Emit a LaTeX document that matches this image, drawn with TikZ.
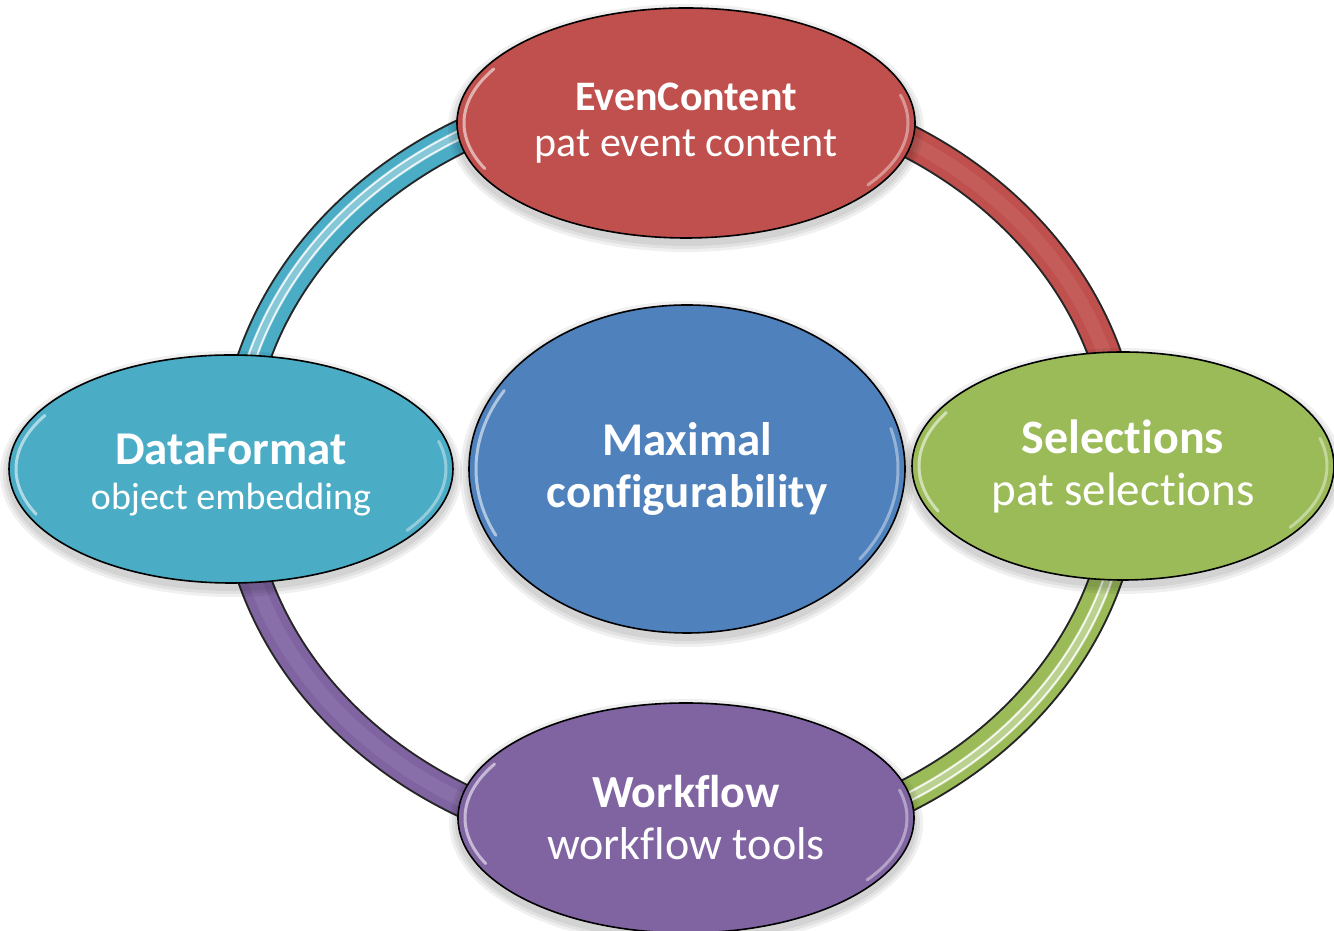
\documentclass[tikz,border=0pt]{standalone}
\usepackage{fontspec}
\setmainfont{Carlito}[Ligatures=NoCommon]
\usetikzlibrary{shapes.geometric}
\definecolor{cred}{HTML}{C0504D}
\definecolor{cblue}{HTML}{4F81BD}
\definecolor{cgreen}{HTML}{9BBB59}
\definecolor{cpurple}{HTML}{8064A2}
\definecolor{cteal}{HTML}{4BACC6}
\tikzset{
  ringout/.style={draw=black!85, line width=34pt, line cap=butt},
  ringin/.style={line width=30pt, line cap=butt},
  shine/.style={line width=11pt, line cap=butt, opacity=0.55},
  shinestripe/.style={draw=white, line width=1.8pt, line cap=round, opacity=0.85},
  bubble/.style={ellipse, draw=black, line width=1.6pt, inner sep=0pt, text=white, align=center},
  gloss/.style={draw=white, line width=3pt, line cap=round, opacity=0.55},
  shadowcast/.style={fill=black, opacity=0.06, draw=none},
}
\begin{document}
\begin{tikzpicture}[x=1pt,y=1pt]
\useasboundingbox (0,0) rectangle (1334,931);
\fill[white] (0,0) rectangle (1334,931);

% ring coordinates
\coordinate (ringc) at (680,463);
\coordinate (rN) at (680,844);
\coordinate (rW) at (235,463);
\coordinate (rS) at (680,82);
\coordinate (rE) at (1125,463);

% ring: outline
\draw[ringout] (rN) arc[start angle=90,end angle=180,x radius=445,y radius=381];
\draw[ringout] (rE) arc[start angle=0,end angle=90,x radius=445,y radius=381];
\draw[ringout] (rS) arc[start angle=270,end angle=360,x radius=445,y radius=381];
\draw[ringout] (rW) arc[start angle=180,end angle=270,x radius=445,y radius=381];
% ring: colour
\draw[ringin, cteal] (rN) arc[start angle=90,end angle=180,x radius=445,y radius=381];
\draw[ringin, cred] (rE) arc[start angle=0,end angle=90,x radius=445,y radius=381];
\draw[ringin, cgreen] (rS) arc[start angle=270,end angle=360,x radius=445,y radius=381];
\draw[ringin, cpurple] (rW) arc[start angle=180,end angle=270,x radius=445,y radius=381];
% ring: glossy stripes on teal and green
\draw[shine, cteal!40!white] (ringc) ++(100:447 and 383) arc[start angle=100,end angle=172,x radius=447,y radius=383];
\draw[shinestripe] (ringc) ++(105:451 and 387) arc[start angle=105,end angle=170,x radius=451,y radius=387];
\draw[shinestripe] (ringc) ++(105:443 and 379) arc[start angle=105,end angle=170,x radius=443,y radius=379];
\draw[shine, cgreen!40!white] (ringc) ++(280:447 and 383) arc[start angle=280,end angle=352,x radius=447,y radius=383];
\draw[shinestripe] (ringc) ++(285:451 and 387) arc[start angle=285,end angle=348,x radius=451,y radius=387];
\draw[shinestripe] (ringc) ++(285:443 and 379) arc[start angle=285,end angle=348,x radius=443,y radius=379];
% subtle light centre on red and purple
\draw[line width=14pt, cred!85!white, opacity=0.5] (ringc) ++(8:445 and 381) arc[start angle=8,end angle=82,x radius=445,y radius=381];
\draw[line width=14pt, cpurple!85!white, opacity=0.5] (ringc) ++(188:445 and 381) arc[start angle=188,end angle=262,x radius=445,y radius=381];

% soft shadows
\foreach \cx/\cy/\rx/\ry in {686/808/229/115, 687/462/218/164, 231/462/222/114, 1123/465/211/114, 686/113/228/115}{
  \foreach \g in {3,6,9}{
    \fill[shadowcast] (\cx,\cy-5) ellipse[x radius=\rx+\g, y radius=\ry+\g];
  }
}

% bubbles
\node[bubble, fill=cred, minimum width=458pt, minimum height=230pt,
      font=\fontsize{42}{46}\selectfont] (even) at (686,808)
  {\textbf{EvenContent}\\pat event content};
\node[bubble, fill=cblue, minimum width=436pt, minimum height=328pt,
      font=\fontsize{47}{52}\selectfont\bfseries] (maxc) at (687,462)
  {Maximal\\configurability};
\node[bubble, fill=cteal, minimum width=444pt, minimum height=228pt,
      font=\fontsize{38}{45}\selectfont] (data) at (231,462)
  {\rule{0pt}{42pt}{\fontsize{47}{45}\selectfont\bfseries DataFormat}\\object embedding};
\node[bubble, fill=cgreen, minimum width=422pt, minimum height=228pt,
      font=\fontsize{47}{52}\selectfont] (sel) at (1123,465)
  {{\fontsize{48}{52}\selectfont\bfseries Selections}\\pat selections};
\node[bubble, fill=cpurple, minimum width=456pt, minimum height=230pt,
      font=\fontsize{46}{52}\selectfont] (work) at (686,113)
  {\textbf{Workflow}\\workflow tools};

% glossy rim highlights
\foreach \n/\cx/\cy/\rx/\ry in {even/686/808/229/115, maxc/687/462/218/164, data/231/462/222/114, sel/1123/465/211/114, work/686/113/228/115}{
  \draw[gloss] (\cx,\cy) ++(150:\rx-7 and \ry-7) arc[start angle=150,end angle=205,x radius=\rx-7,y radius=\ry-7];
  \draw[gloss, opacity=0.4] (\cx,\cy) ++(-35:\rx-7 and \ry-7) arc[start angle=-35,end angle=15,x radius=\rx-7,y radius=\ry-7];
}
\end{tikzpicture}
\end{document}
